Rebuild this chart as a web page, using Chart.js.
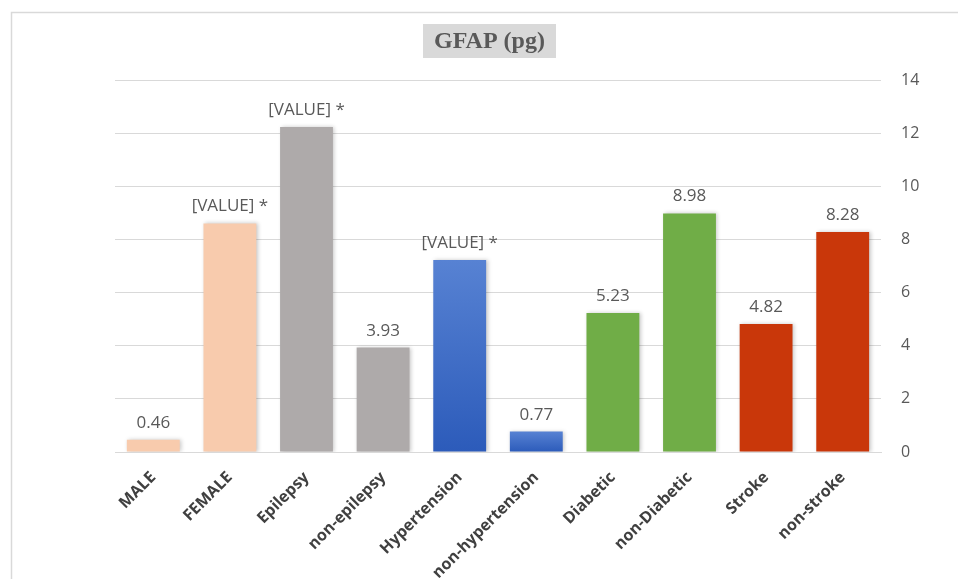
<!DOCTYPE html>
<html>
<head>
<meta charset="utf-8">
<title>GFAP (pg)</title>
<script src="https://cdn.jsdelivr.net/npm/chart.js@4/dist/chart.umd.min.js"></script>
<style>
  html, body { margin: 0; padding: 0; background: #ffffff; }
  canvas { display: block; }
</style>
</head>
<body>
<canvas id="chart" width="958" height="579"></canvas>
<script>
// Groups and GFAP levels (pg)
const categories = ['MALE', 'FEMALE', 'Epilepsy', 'non-epilepsy', 'Hypertension',
  'non-hypertension', 'Diabetic', 'non-Diabetic', 'Stroke', 'non-stroke'];
const gfapValues = [0.46, 8.6, 12.23, 3.93, 7.23, 0.77, 5.23, 8.98, 4.82, 8.28];
// Groups with a significant difference carry a starred placeholder label
const starred = [false, true, true, false, true, false, false, false, false, false];

const peach = '#F8CBAD', grey = '#AEAAAA', green = '#70AD47', red = '#C9370A';
const barColors = [peach, peach, grey, grey, 'blue', 'blue', green, green, red, red];

const TEXT = '#595959';

function barFill(c) {
  const i = c.dataIndex;
  if (barColors[i] !== 'blue') return barColors[i];
  const chart = c.chart;
  if (!chart.chartArea || !chart.scales.y) return '#4472C4';
  const y = chart.scales.y;
  const top = y.getPixelForValue(gfapValues[i]);
  const bottom = y.getPixelForValue(0);
  const g = chart.ctx.createLinearGradient(0, top, 0, bottom);
  g.addColorStop(0, '#5782D3');
  g.addColorStop(1, '#2C5BBA');
  return g;
}

// Frame and boxed title
const framePlugin = {
  id: 'frame',
  beforeDraw(chart) {
    const ctx = chart.ctx;
    ctx.save();
    ctx.fillStyle = '#ffffff';
    ctx.fillRect(0, 0, chart.width, chart.height);
    ctx.strokeStyle = '#D9D9D9';
    ctx.lineWidth = 1.5;
    ctx.strokeRect(11.5, 12.5, chart.width + 20, chart.height + 20);
    ctx.fillStyle = '#D9D9D9';
    ctx.fillRect(423, 24, 133, 34);
    ctx.fillStyle = TEXT;
    ctx.font = 'bold 24px "Liberation Serif", serif';
    ctx.textAlign = 'center';
    ctx.textBaseline = 'middle';
    ctx.fillText('GFAP (pg)', 489.5, 42);
    ctx.restore();
  }
};

// Soft shadow under the bars
const shadowPlugin = {
  id: 'barShadow',
  beforeDatasetsDraw(chart) {
    const ctx = chart.ctx;
    ctx.save();
    ctx.shadowColor = 'rgba(0,0,0,0.22)';
    ctx.shadowBlur = 4;
    ctx.shadowOffsetX = 1.5;
    ctx.shadowOffsetY = 0;
  },
  afterDatasetsDraw(chart) {
    chart.ctx.restore();
  }
};

// Value labels above each bar
const valueLabelPlugin = {
  id: 'valueLabels',
  afterDatasetsDraw(chart) {
    const ctx = chart.ctx;
    const meta = chart.getDatasetMeta(0);
    ctx.save();
    ctx.fillStyle = TEXT;
    ctx.font = '17px "Open Sans", sans-serif';
    ctx.textAlign = 'center';
    ctx.textBaseline = 'alphabetic';
    meta.data.forEach((bar, i) => {
      const text = starred[i] ? '[VALUE] *' : gfapValues[i].toFixed(2);
      ctx.fillText(text, bar.x, bar.y - 12);
    });
    ctx.restore();
  }
};

new Chart(document.getElementById('chart'), {
  type: 'bar',
  data: {
    labels: categories,
    datasets: [{
      data: gfapValues,
      backgroundColor: barFill,
      borderWidth: 0,
      categoryPercentage: 1,
      barPercentage: 0.69
    }]
  },
  options: {
    responsive: false,
    animation: false,
    devicePixelRatio: 1,
    layout: { padding: { left: 115, top: 80, right: 0, bottom: 0 } },
    plugins: {
      legend: { display: false },
      tooltip: { enabled: false },
      title: { display: false }
    },
    scales: {
      x: {
        grid: { display: false },
        border: { display: true, color: '#D9D9D9', width: 1 },
        ticks: {
          color: '#404040',
          font: { family: '"Open Sans", sans-serif', size: 16, weight: 'bold' },
          minRotation: 45,
          maxRotation: 45,
          padding: 8,
          autoSkip: false
        },
        afterFit(s) { s.height = 127; }
      },
      y: {
        position: 'right',
        min: 0,
        max: 14,
        grid: { color: '#D9D9D9', drawTicks: false },
        border: { display: false },
        ticks: {
          stepSize: 2,
          padding: 20,
          color: TEXT,
          font: { family: '"Open Sans", sans-serif', size: 16 }
        },
        afterFit(s) { s.width = 77; }
      }
    }
  },
  plugins: [framePlugin, shadowPlugin, valueLabelPlugin]
});
</script>
</body>
</html>
